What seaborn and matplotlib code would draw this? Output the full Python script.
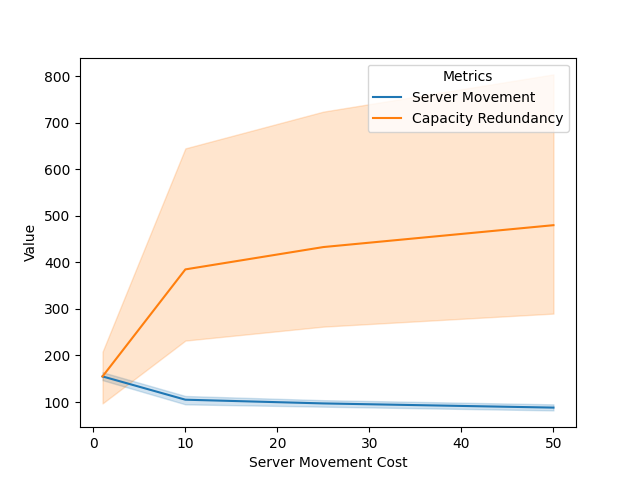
import pandas as pd
import matplotlib
matplotlib.use('Agg')
import matplotlib.pyplot as plt
import seaborn as sns

costs = [1, 10, 25, 50]
metrics = ['Server Movement', 'Capacity Redundancy']

server_mean = [155, 105, 97, 88]
server_lo = [147, 95, 90, 82]
server_hi = [164, 113, 104, 95]

capacity_mean = [155, 385, 433, 480]
capacity_lo = [97, 232, 262, 290]
capacity_hi = [208, 645, 724, 804]

df = pd.DataFrame({
    'Server Movement Cost': costs * 2,
    'Value': server_mean + capacity_mean,
    'Metrics': [metrics[0]] * len(costs) + [metrics[1]] * len(costs),
})

colors = sns.color_palette()[:2]

fig, ax = plt.subplots(figsize=(6.4, 4.8))
sns.lineplot(data=df, x='Server Movement Cost', y='Value', hue='Metrics',
             palette=colors, ax=ax)
# confidence bands, drawn like seaborn's own (edge left visible)
ax.fill_between(costs, server_lo, server_hi, color=colors[0], alpha=0.2)
ax.fill_between(costs, capacity_lo, capacity_hi, color=colors[1], alpha=0.2)
ax.legend(title='Metrics', loc='upper right', borderpad=0.4)

plt.savefig('out.png', dpi=100)
plt.close()
